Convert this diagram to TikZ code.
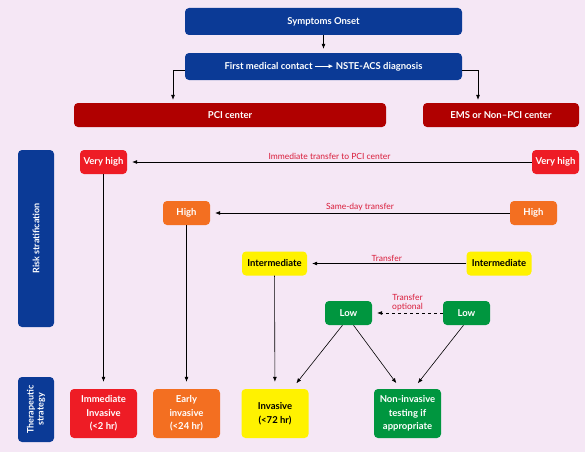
\documentclass[tikz,border=0pt]{standalone}
\usepackage{fontspec}
\setmainfont{Lato}
\usetikzlibrary{arrows.meta,positioning,calc}
\definecolor{bgpink}{HTML}{F5E7F5}
\definecolor{navy}{HTML}{0B3A96}
\definecolor{darkred}{HTML}{B00000}
\definecolor{vhred}{HTML}{EE1C25}
\definecolor{hiorange}{HTML}{F36F21}
\definecolor{intyellow}{HTML}{FFF200}
\definecolor{lowgreen}{HTML}{00963F}
\definecolor{lblred}{HTML}{D91C3A}
\tikzset{
    box/.style={
        rounded corners=4pt,
        align=center,
        inner sep=1pt,
        font=\fontsize{9.5}{13.5}\selectfont\bfseries
    },
    flow/.style={
        box,
        fill=navy,
        text=white,
        minimum width=277pt,
        minimum height=27pt
    },
    center/.style={
        box,
        fill=darkred,
        text=white,
        minimum height=24pt
    },
    risk/.style={
        box,
        text=white,
        minimum width=47pt,
        minimum height=24pt
    },
    strategy/.style={
        box,
        minimum width=67pt,
        minimum height=49pt
    },
    bar/.style={
        box,
        fill=navy,
        text=white,
        rotate=90,
        minimum height=36pt,
        font=\fontsize{9}{10}\selectfont\bfseries
    },
    arrow/.style={
        -{Latex[length=5pt,width=4pt]},
        semithick
    },
    dashedarrow/.style={
        -{Latex[length=5pt,width=4pt]},
        semithick,
        dashed
    },
    lbl/.style={font=\fontsize{8.5}{9}\selectfont, text=lblred, inner sep=2pt}
}
\newcommand{\txtarrow}{\tikz[baseline=-3pt]\draw[white,semithick,-{Latex[length=4.5pt,width=4pt]}] (0pt,0pt) -- (18pt,0pt);}
\begin{document}
\begin{tikzpicture}[x=1pt,y=-1pt]

\fill[bgpink] (0,0) rectangle (585,452);
\useasboundingbox (0,0) rectangle (585,452);

% top of the flow
\node[flow] (onset) at (323.5,21.5) {Symptoms Onset};
\node[flow] (fmc) at (323.5,66.5) {First medical contact \txtarrow\ NSTE-ACS diagnosis};
\node[center, minimum width=312pt] (pci) at (230,115) {PCI center};
\node[center, minimum width=156pt] (ems) at (501,115) {EMS or Non--PCI center};

% side bars
\node[bar, minimum width=177pt] (riskbar) at (36,238.5) {Risk stratification};
\node[bar, minimum width=65pt] (therbar) at (36,409.5) {Therapeutic\\strategy};

% risk levels
\node[risk, fill=vhred] (vhpci) at (103.5,162) {Very high};
\node[risk, fill=vhred] (vhems) at (555.5,162) {Very high};
\node[risk, fill=hiorange] (hipci) at (186.5,213) {High};
\node[risk, fill=hiorange] (hiems) at (533.5,213) {High};
\node[risk, fill=intyellow, text=black, minimum width=65pt] (intpci) at (274.5,263.5) {Intermediate};
\node[risk, fill=intyellow, text=black, minimum width=65pt] (intems) at (499,263.5) {Intermediate};
\node[risk, fill=lowgreen] (lowpci) at (348.5,313) {Low};
\node[risk, fill=lowgreen] (lowems) at (466.5,313) {Low};

% strategies
\node[strategy, fill=vhred, text=white] (immed) at (103.5,413.5) {Immediate\\Invasive\\(<2 hr)};
\node[strategy, fill=hiorange, text=white] (early) at (186.5,413.5) {Early\\invasive\\(<24 hr)};
\node[strategy, fill=intyellow, text=black] (inv) at (275,413.5) {Invasive\\(<72 hr)};
\node[strategy, fill=lowgreen, text=white] (noninv) at (407.5,413.5) {Non-invasive\\testing if\\appropriate};

\draw[arrow, shorten >=4pt] (onset) -- (fmc);
\draw[arrow, shorten >=3pt] ([yshift=-4pt]fmc.west) -| ([xshift=-57pt]pci.north);
\draw[arrow, shorten >=3pt] ([yshift=-4pt]fmc.east) -| ([xshift=-23pt]ems.north);

\draw[arrow, shorten >=5pt] (vhems) -- node[above,lbl] {Immediate transfer to PCI center} (vhpci);
\draw[arrow, shorten >=5pt] (hiems) -- node[above,lbl] {Same-day transfer} (hipci);
\draw[arrow, shorten >=5pt] (intems) -- node[above,lbl] {Transfer} (intpci);
\draw[dashedarrow, shorten >=5pt] (lowems) -- node[above,lbl,align=center,font=\fontsize{8.5}{9}\selectfont] {Transfer\\optional} (lowpci);

\draw[arrow, shorten >=7pt] (vhpci) -- (immed);
\draw[arrow, shorten >=7pt] (hipci) -- (early);
\draw[arrow, shorten >=7pt] (intpci) -- (inv);
\draw[arrow, shorten >=7pt] ([xshift=-6pt]lowpci.south) -- ([xshift=17pt]inv.north);
\draw[arrow, shorten >=7pt] ([xshift=5pt]lowpci.south) -- ([xshift=-7pt]noninv.north);
\draw[arrow, shorten >=7pt] ([xshift=-3pt]lowems.south) -- ([xshift=6pt]noninv.north);

\end{tikzpicture}
\end{document}
